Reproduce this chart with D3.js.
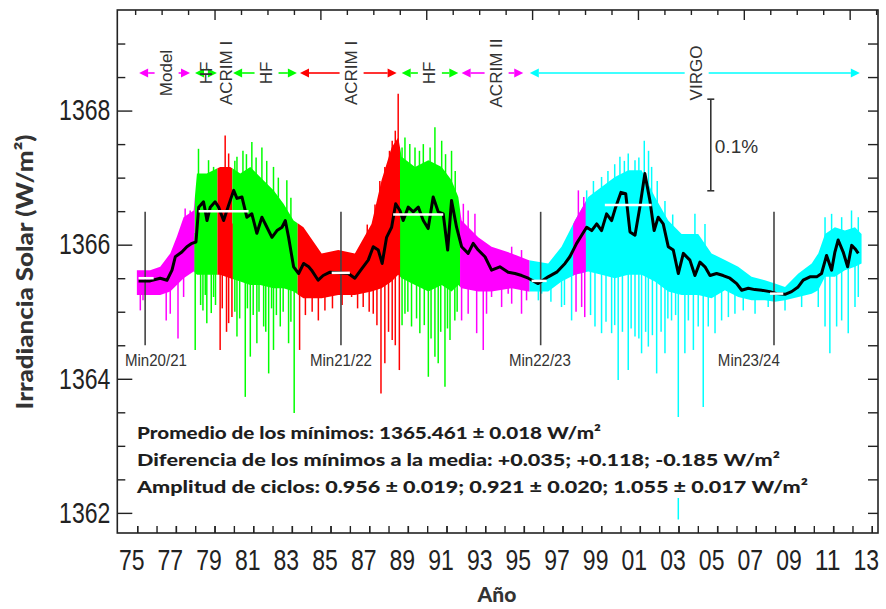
<!DOCTYPE html>
<html>
<head>
<meta charset="utf-8">
<script src="https://cdn.jsdelivr.net/npm/d3@7"></script>
<style>
  body { margin: 0; background: #fff; }
  svg { display: block; }
</style>
</head>
<body>
<svg width="886" height="609"></svg>
<script>
// smoothed composite (black line)
var smoothYears = [1975.07, 1975.67, 1976.19, 1976.54, 1976.80, 1976.97, 1977.31, 1977.57, 1977.83, 1978.04,
  1978.18, 1978.43, 1978.61, 1978.78, 1979.03, 1979.21, 1979.47, 1979.73, 1979.99, 1980.16,
  1980.42, 1980.67, 1980.93, 1981.19, 1981.45, 1981.71, 1981.97, 1982.23, 1982.49, 1982.66,
  1982.83, 1983.09, 1983.35, 1983.61, 1983.87, 1984.02, 1984.36, 1984.62, 1984.97, 1985.40,
  1985.92, 1986.26, 1986.61, 1986.95, 1987.21, 1987.47, 1987.67, 1987.90, 1988.16, 1988.37,
  1988.59, 1988.76, 1989.02, 1989.28, 1989.54, 1989.80, 1990.05, 1990.31, 1990.57, 1990.83,
  1991.06, 1991.26, 1991.52, 1991.78, 1992.12, 1992.38, 1992.64, 1992.99, 1993.33, 1993.76,
  1994.19, 1994.54, 1994.89, 1995.23, 1995.74, 1996.26, 1996.70, 1997.13, 1997.38, 1997.73,
  1997.99, 1998.25, 1998.51, 1998.77, 1999.02, 1999.28, 1999.54, 1999.75, 2000.02, 2000.27,
  2000.49, 2000.75, 2001.00, 2001.26, 2001.52, 2001.74, 2001.95, 2002.21, 2002.47, 2002.73,
  2002.99, 2003.25, 2003.59, 2003.85, 2004.11, 2004.37, 2004.63, 2004.97, 2005.31, 2005.66,
  2006.01, 2006.27, 2006.61, 2006.95, 2007.30, 2007.73, 2008.08, 2008.51, 2008.85, 2009.19,
  2009.45, 2009.80, 2010.15, 2010.40, 2010.66, 2010.92, 2011.09, 2011.26, 2011.52, 2011.75,
  2011.96, 2012.13, 2012.30]
var smoothVals = [1365.46, 1365.46, 1365.50, 1365.47, 1365.62, 1365.82, 1365.89, 1365.97, 1366.02, 1366.04,
  1366.56, 1366.64, 1366.36, 1366.56, 1366.64, 1366.56, 1366.36, 1366.59, 1366.81, 1366.69,
  1366.71, 1366.41, 1366.46, 1366.17, 1366.41, 1366.26, 1366.11, 1366.21, 1366.26, 1366.36,
  1366.11, 1365.67, 1365.57, 1365.72, 1365.67, 1365.62, 1365.47, 1365.54, 1365.59, 1365.58,
  1365.57, 1365.50, 1365.64, 1365.77, 1365.97, 1365.92, 1365.72, 1366.11, 1366.26, 1366.61,
  1366.51, 1366.36, 1366.56, 1366.49, 1366.56, 1366.36, 1366.24, 1366.71, 1366.49, 1366.46,
  1365.92, 1366.66, 1366.26, 1365.97, 1365.87, 1366.02, 1365.92, 1365.82, 1365.62, 1365.67,
  1365.59, 1365.57, 1365.54, 1365.50, 1365.42, 1365.52, 1365.59, 1365.72, 1365.82, 1366.02,
  1366.14, 1366.26, 1366.21, 1366.31, 1366.21, 1366.46, 1366.36, 1366.56, 1366.78, 1366.76,
  1366.19, 1366.14, 1366.56, 1367.06, 1366.66, 1366.21, 1366.41, 1366.31, 1365.97, 1365.92,
  1365.57, 1365.87, 1365.77, 1365.54, 1365.74, 1365.67, 1365.54, 1365.57, 1365.54, 1365.50,
  1365.42, 1365.32, 1365.35, 1365.33, 1365.32, 1365.30, 1365.27, 1365.26, 1365.30, 1365.37,
  1365.47, 1365.52, 1365.52, 1365.57, 1365.84, 1365.62, 1365.89, 1366.07, 1365.89, 1365.67,
  1365.99, 1365.94, 1365.87]

// dense part of the daily values (upper / lower edge)
var envYears = [1974.98, 1975.67, 1976.19, 1976.71, 1977.05, 1977.40, 1977.92, 1978.09, 1978.60, 1979.29,
  1979.81, 1980.33, 1980.85, 1981.36, 1982.05, 1982.57, 1983.09, 1983.60, 1984.54, 1985.40,
  1986.26, 1987.12, 1987.64, 1988.16, 1988.50, 1988.68, 1989.37, 1990.06, 1990.75, 1991.26,
  1991.61, 1991.78, 1992.64, 1993.33, 1994.37, 1995.23, 1996.26, 1996.95, 1997.64, 1998.33,
  1999.02, 1999.71, 2000.40, 2001.09, 2001.78, 2002.47, 2003.16, 2004.02, 2004.71, 2005.40,
  2006.09, 2006.78, 2007.47, 2007.99, 2008.51, 2009.20, 2009.89, 2010.23, 2010.58, 2011.09,
  2011.61, 2012.13, 2012.47]
var envHigh = [1365.62, 1365.62, 1365.67, 1365.87, 1366.12, 1366.41, 1366.51, 1367.06, 1367.06, 1367.16,
  1367.16, 1367.06, 1367.16, 1367.01, 1366.81, 1366.61, 1366.36, 1366.26, 1365.87, 1365.92,
  1365.87, 1366.31, 1366.96, 1367.45, 1367.60, 1367.31, 1367.16, 1367.26, 1367.16, 1366.96,
  1366.71, 1366.36, 1366.11, 1365.97, 1365.87, 1365.77, 1365.72, 1365.97, 1366.36, 1366.71,
  1366.86, 1367.01, 1367.11, 1367.11, 1366.71, 1366.36, 1366.16, 1366.16, 1365.87, 1365.77,
  1365.67, 1365.52, 1365.47, 1365.42, 1365.37, 1365.57, 1365.72, 1365.87, 1366.16, 1366.26,
  1366.21, 1366.26, 1366.16]
var envLow = [1365.25, 1365.25, 1365.25, 1365.30, 1365.40, 1365.50, 1365.60, 1365.55, 1365.55, 1365.55,
  1365.50, 1365.45, 1365.40, 1365.40, 1365.35, 1365.35, 1365.30, 1365.20, 1365.20, 1365.25,
  1365.25, 1365.30, 1365.35, 1365.45, 1365.55, 1365.50, 1365.40, 1365.30, 1365.40, 1365.30,
  1365.40, 1365.35, 1365.30, 1365.30, 1365.35, 1365.30, 1365.30, 1365.45, 1365.55, 1365.60,
  1365.55, 1365.50, 1365.55, 1365.55, 1365.45, 1365.30, 1365.25, 1365.25, 1365.20, 1365.32,
  1365.22, 1365.17, 1365.17, 1365.15, 1365.17, 1365.22, 1365.27, 1365.32, 1365.52, 1365.52,
  1365.62, 1365.67, 1365.72]

// single daily values sticking out of the dense part [year, W/m2]
var spikes = [
  // Model
  [1975.16, 1365.02], [1975.30, 1365.17], [1976.50, 1364.87], [1976.71, 1364.97], [1977.11, 1364.60],
  [1977.40, 1365.22], [1977.48, 1366.54], [1977.74, 1366.51],
  // HF
  [1978.17, 1367.43], [1978.69, 1367.26], [1978.95, 1367.16], [1978.00, 1364.43], [1978.40, 1365.02],
  [1978.60, 1364.83], [1978.95, 1365.22], [1978.28, 1365.10], [1978.52, 1365.25], [1978.83, 1364.98],
  [1979.05, 1365.10],
  // ACRIM I
  [1979.55, 1367.63], [1979.73, 1367.36], [1979.29, 1364.43], [1979.73, 1364.83], [1979.90, 1364.92],
  [1979.40, 1365.05], [1979.62, 1364.70],
  // HF
  [1980.16, 1367.31], [1980.47, 1367.40], [1980.93, 1367.53], [1981.45, 1367.45], [1982.05, 1367.16],
  [1982.74, 1366.96], [1980.16, 1364.63], [1980.59, 1363.73], [1980.85, 1364.33], [1981.19, 1364.53],
  [1981.54, 1364.78], [1981.80, 1364.08], [1982.05, 1364.43], [1982.40, 1364.78], [1982.83, 1364.53],
  [1983.12, 1363.49], [1980.05, 1365.00], [1980.30, 1364.90], [1980.70, 1365.05], [1981.00, 1364.95],
  [1981.30, 1365.00], [1981.65, 1364.70], [1981.95, 1365.05], [1982.20, 1364.95], [1982.55, 1365.00],
  [1982.95, 1364.85], [1980.05, 1367.25], [1980.65, 1367.35], [1981.15, 1367.30], [1981.70, 1367.25],
  [1982.30, 1367.00], [1982.95, 1366.70],
  // ACRIM I
  [1983.40, 1364.43], [1984.37, 1364.87], [1984.71, 1365.02], [1986.09, 1365.22], [1986.69, 1365.07],
  [1987.21, 1364.97], [1987.61, 1363.78], [1987.81, 1364.23], [1988.19, 1364.58], [1988.56, 1364.13],
  [1988.50, 1368.25], [1988.19, 1367.55], [1987.81, 1367.16], [1983.70, 1364.95], [1984.05, 1365.00],
  [1985.10, 1365.05], [1985.60, 1365.10], [1986.40, 1365.05], [1987.00, 1365.00], [1987.40, 1364.80],
  [1988.00, 1364.70], [1988.35, 1364.50], [1986.90, 1366.30], [1987.30, 1366.60], [1987.55, 1366.95],
  [1988.05, 1367.40], [1988.35, 1367.70],
  // HF
  [1988.85, 1367.60], [1989.37, 1367.45], [1989.80, 1367.50], [1990.40, 1367.75], [1990.75, 1367.55],
  [1991.26, 1367.40], [1988.85, 1364.97], [1989.19, 1364.78], [1989.62, 1364.68], [1990.06, 1364.03],
  [1990.40, 1364.33], [1990.57, 1364.23], [1990.92, 1363.88], [1991.18, 1364.58], [1991.43, 1364.87],
  [1988.70, 1364.80], [1989.00, 1365.00], [1989.45, 1364.90], [1989.85, 1364.80], [1990.20, 1364.60],
  [1990.70, 1364.70], [1991.05, 1364.75], [1991.55, 1365.00], [1988.70, 1367.45], [1989.10, 1367.50],
  [1989.60, 1367.40], [1990.15, 1367.45], [1990.95, 1367.35], [1991.45, 1367.10],
  // ACRIM II
  [1991.87, 1366.61], [1992.12, 1366.51], [1992.47, 1366.46], [1991.78, 1364.87], [1992.12, 1364.97],
  [1992.56, 1364.68], [1992.90, 1364.43], [1993.07, 1364.97], [1993.33, 1365.22], [1993.85, 1365.07],
  [1994.19, 1365.27], [1994.37, 1365.12], [1994.88, 1364.97], [1995.14, 1365.17], [1994.37, 1365.97],
  [1994.88, 1365.92],
  [1997.82, 1366.81], [1998.10, 1366.71], [1997.99, 1365.07], [1998.15, 1364.92],
  // VIRGO
  [1998.25, 1366.81], [1999.02, 1367.01], [1999.97, 1367.31], [2000.40, 1367.36], [2000.75, 1367.26],
  [2001.23, 1367.55], [2001.61, 1367.16], [1995.75, 1365.17], [1995.92, 1365.27], [1996.95, 1365.07],
  [1997.47, 1364.87], [1998.68, 1364.78], [1999.02, 1364.68], [1999.54, 1364.68], [1999.88, 1363.98],
  [2000.40, 1364.13], [2000.75, 1364.63], [2001.09, 1364.38], [2001.44, 1364.48], [2001.87, 1364.08],
  [2002.30, 1364.38], [2002.64, 1364.87], [2002.99, 1361.90], [2003.33, 1364.38],
  [1996.40, 1365.15], [1997.10, 1365.10], [1997.70, 1365.00], [1998.45, 1364.95], [1999.25, 1364.85],
  [1999.70, 1364.80], [2000.10, 1364.70], [2000.55, 1364.75], [2000.95, 1364.60], [2001.30, 1364.70],
  [2001.65, 1364.65], [2002.10, 1364.70], [2002.45, 1364.90], [2002.85, 1364.95],
  [1998.60, 1366.95], [1999.35, 1367.10], [1999.70, 1367.20], [2000.20, 1367.25], [2000.95, 1367.30],
  [2001.45, 1367.40], [2001.90, 1366.95], [2002.30, 1366.65], [2002.70, 1366.45],
  [2003.85, 1366.46], [2004.37, 1366.31], [2010.58, 1366.41], [2010.92, 1366.46], [2011.44, 1366.41],
  [2011.95, 1366.51], [2012.30, 1366.41],
  [2003.51, 1364.87], [2003.77, 1364.43], [2004.02, 1364.78], [2004.28, 1363.58], [2004.54, 1364.78],
  [2004.89, 1364.68], [2005.23, 1364.87], [2005.58, 1364.92], [2005.92, 1364.97], [2006.35, 1365.02],
  [2006.96, 1364.97], [2007.64, 1365.07], [2008.51, 1365.02], [2009.37, 1365.07], [2010.23, 1365.07],
  [2010.58, 1364.78], [2010.83, 1364.38], [2011.18, 1364.78], [2011.44, 1364.87], [2011.78, 1364.68],
  [2012.13, 1365.07], [2012.30, 1365.22]
]

// which instrument is used when (last match wins)
var segStart = [1974.95, 1977.98, 1979.15, 1979.92, 1983.30, 1988.60, 1991.70, 1995.30, 1997.55]
var segEnd = [1977.98, 1979.15, 1979.92, 1983.30, 1988.60, 1991.70, 1995.30, 2012.50, 1998.20]
var segInstr = ['Model', 'HF', 'ACRIM I', 'HF', 'ACRIM I', 'HF', 'ACRIM II', 'VIRGO', 'ACRIM II']
var colors = {
  'Model': '#ff00ff',
  'HF': '#00ff00',
  'ACRIM I': '#ff0000',
  'ACRIM II': '#ff00ff',
  'VIRGO': '#00ffff'
}

// legend arrows on top
var legLabels = ['Model', 'HF', 'ACRIM I', 'HF', 'ACRIM I', 'HF', 'ACRIM II', 'VIRGO']
var legStart = [1975.10, 1977.99, null, 1979.96, 1983.42, 1988.68, 1991.78, 1995.31]
var legEnd = [1977.73, 1979.12, null, 1983.26, 1988.42, 1991.61, 1994.97, 2012.38]
var legLabelYear = [1976.52, 1978.59, 1979.62, 1981.69, 1986.09, 1990.14, 1993.59, 2003.94]

// solar minima and cycle mean levels
var minYears = [1975.41, 1985.54, 1995.87, 2007.94]
var minNames = ['Min20/21', 'Min21/22', 'Min22/23', 'Min23/24']
var minLabelYears = [1975.97, 1985.54, 1995.83, 2006.64]
var levelStart = [1975.07, 1978.18, 1985.06, 1988.24, 1995.40, 1999.19, 2007.73]
var levelEnd = [1975.85, 1980.76, 1986.00, 1990.83, 1996.18, 2001.61, 2008.42]
var levelVals = [1365.50, 1366.50, 1365.58, 1366.45, 1365.46, 1366.59, 1365.27]

var yMajor = [1362, 1364, 1366, 1368]
var yearTicks = d3.range(1975, 2014)
var yearLabels = d3.range(1975, 2014, 2)

var notes = [
  'Promedio de los mínimos: 1365.461 ± 0.018 W/m²',
  'Diferencia de los mínimos a la media: +0.035; +0.118; -0.185 W/m²',
  'Amplitud de ciclos: 0.956 ± 0.019; 0.921 ± 0.020; 1.055 ± 0.017 W/m²'
]
var noteWidths = [464, 643, 671]

var svg = d3.select('svg')
var plain = "'Liberation Sans', Arial, sans-serif"
var heavy = "Lato, 'DejaVu Sans', sans-serif"

var x = d3.scaleLinear().domain([1973.97, 2013.32]).range([117.3, 878])
var y = d3.scaleLinear().domain([1361.7, 1369.5]).range([533, 10])
// top axis counts days from 1979
var days = d3.scaleLinear()
  .domain(x.domain().map(d => (d - 1979) * 365.25))
  .range(x.range())

function colorAt(yr) {
  var c = null
  segStart.forEach((s, i) => {
    if (yr >= s && yr < segEnd[i]) c = colors[segInstr[i]]
  })
  return c
}

var env = envYears.map((yr, i) => ({ yr: yr, hi: envHigh[i], lo: envLow[i] }))
var bis = d3.bisector(d => d.yr).left
function envMid(yr) {
  var i = Math.max(1, Math.min(env.length - 1, bis(env, yr)))
  var a = env[i - 1], b = env[i]
  var t = Math.max(0, Math.min(1, (yr - a.yr) / (b.yr - a.yr)))
  return ((a.hi + a.lo) / 2) * (1 - t) + ((b.hi + b.lo) / 2) * t
}

// ------------------------------------------------
// daily data, coloured by instrument

var defs = svg.append('defs')
var bandArea = d3.area()
  .x(d => x(d.yr))
  .y0(d => y(d.lo))
  .y1(d => y(d.hi))

var dataG = svg.append('g')
segStart.forEach((s, i) => {
  defs.append('clipPath').attr('id', 'seg' + i)
    .append('rect')
    .attr('x', x(s)).attr('y', 0)
    .attr('width', x(segEnd[i]) - x(s)).attr('height', 609)
  dataG.append('path')
    .datum(env)
    .attr('d', bandArea)
    .attr('fill', colors[segInstr[i]])
    .attr('clip-path', 'url(#seg' + i + ')')
})

dataG.selectAll('.spike')
  .data(spikes)
  .enter()
  .append('line')
  .attr('class', 'spike')
  .attr('x1', d => x(d[0])).attr('x2', d => x(d[0]))
  .attr('y1', d => y(envMid(d[0])))
  .attr('y2', d => y(d[1]))
  .attr('stroke', d => colorAt(d[0]))
  .attr('stroke-width', 1.5)

// white box behind the notes
svg.append('rect')
  .attr('x', 126).attr('y', 417)
  .attr('width', 690).attr('height', 81)
  .attr('fill', '#fff')

// minima markers
svg.selectAll('.minline')
  .data(minYears)
  .enter()
  .append('line')
  .attr('x1', d => x(d)).attr('x2', d => x(d))
  .attr('y1', y(1366.49)).attr('y2', y(1364.5))
  .attr('stroke', '#444')
  .attr('stroke-width', 1.6)

svg.selectAll('.minlabel')
  .data(minNames)
  .enter()
  .append('text')
  .attr('x', (d, i) => x(minLabelYears[i]))
  .attr('y', 366)
  .attr('text-anchor', 'middle')
  .attr('font-family', plain)
  .attr('font-size', 16)
  .attr('textLength', 62)
  .attr('lengthAdjust', 'spacingAndGlyphs')
  .attr('fill', '#333')
  .text(d => d)

// smoothed line
var line = d3.line()
  .x((d, i) => x(smoothYears[i]))
  .y(d => y(d))
svg.append('path')
  .datum(smoothVals)
  .attr('d', line)
  .attr('fill', 'none')
  .attr('stroke', '#000')
  .attr('stroke-width', 3)
  .attr('stroke-linejoin', 'round')

svg.selectAll('.level')
  .data(levelVals)
  .enter()
  .append('line')
  .attr('x1', (d, i) => x(levelStart[i]))
  .attr('x2', (d, i) => x(levelEnd[i]))
  .attr('y1', d => y(d)).attr('y2', d => y(d))
  .attr('stroke', '#fff')
  .attr('stroke-width', 2.5)

// ------------------------------------------------
// legend arrows

var legY = 73
var gap = 12
var head = 9
legLabels.forEach((name, i) => {
  var col = colors[name]
  var lx = x(legLabelYear[i])
  if (legStart[i] !== null) {
    var x0 = x(legStart[i]), x1 = x(legEnd[i])
    if (lx - gap > x0 + head) {
      svg.append('line').attr('x1', x0 + head).attr('x2', lx - gap)
        .attr('y1', legY).attr('y2', legY)
        .attr('stroke', col).attr('stroke-width', 1.6)
    }
    if (x1 - head > lx + gap) {
      svg.append('line').attr('x1', lx + gap).attr('x2', x1 - head)
        .attr('y1', legY).attr('y2', legY)
        .attr('stroke', col).attr('stroke-width', 1.6)
    }
    svg.append('path')
      .attr('d', 'M' + x0 + ',' + legY + 'L' + (x0 + head) + ',' + (legY - 4.5) + 'L' + (x0 + head) + ',' + (legY + 4.5) + 'Z')
      .attr('fill', col)
    svg.append('path')
      .attr('d', 'M' + x1 + ',' + legY + 'L' + (x1 - head) + ',' + (legY - 4.5) + 'L' + (x1 - head) + ',' + (legY + 4.5) + 'Z')
      .attr('fill', col)
  }
  svg.append('text')
    .attr('transform', 'translate(' + lx + ',' + legY + ') rotate(-90)')
    .attr('text-anchor', 'middle')
    .attr('dominant-baseline', 'central')
    .attr('font-family', plain)
    .attr('font-size', 17)
    .attr('fill', '#333')
    .text(name)
})

// 0.1% scale bar
var barYear = 2004.67
var barTop = 1368.17
var barBottom = barTop - 1366 * 0.001
svg.append('line')
  .attr('x1', x(barYear)).attr('x2', x(barYear))
  .attr('y1', y(barTop)).attr('y2', y(barBottom))
  .attr('stroke', '#333').attr('stroke-width', 1.6)
;[barTop, barBottom].forEach(v => {
  svg.append('line')
    .attr('x1', x(barYear) - 3.5).attr('x2', x(barYear) + 3.5)
    .attr('y1', y(v)).attr('y2', y(v))
    .attr('stroke', '#333').attr('stroke-width', 1.6)
})
svg.append('text')
  .attr('x', x(barYear) + 4)
  .attr('y', 153)
  .attr('font-family', plain)
  .attr('font-size', 19)
  .attr('fill', '#333')
  .text('0.1%')

// ------------------------------------------------
// axes

function styleAxis(g) {
  g.select('.domain').remove()
  g.selectAll('line').attr('stroke', '#222').attr('stroke-width', 1.4)
  g.selectAll('text')
    .attr('font-family', plain)
    .attr('font-size', 29)
    .attr('fill', '#222')
    .attr('textLength', function () { return this.textContent.length * 12.8 })
    .attr('lengthAdjust', 'spacingAndGlyphs')
}

svg.append('g')
  .attr('transform', 'translate(' + x.range()[0] + ',0)')
  .call(d3.axisLeft(y)
    .tickValues(d3.range(1362, 1369.01, 0.5).filter(v => yMajor.indexOf(v) < 0))
    .tickSize(-8).tickFormat(''))
  .call(styleAxis)
svg.append('g')
  .attr('transform', 'translate(' + x.range()[0] + ',0)')
  .call(d3.axisLeft(y).tickValues(yMajor).tickSize(-15).tickPadding(7).tickFormat(d3.format('d')))
  .call(styleAxis)
svg.append('g')
  .attr('transform', 'translate(' + x.range()[1] + ',0)')
  .call(d3.axisRight(y).tickValues(d3.range(1362, 1369.01, 0.5)).tickSize(-10).tickFormat(''))
  .call(styleAxis)

var dayTicks = d3.range(-1500, 12600, 500)
svg.append('g')
  .attr('transform', 'translate(0,' + y.range()[1] + ')')
  .call(d3.axisTop(days).tickValues(dayTicks.filter(d => d % 2000 !== 0)).tickSize(-5).tickFormat(''))
  .call(styleAxis)
svg.append('g')
  .attr('transform', 'translate(0,' + y.range()[1] + ')')
  .call(d3.axisTop(days).tickValues(dayTicks.filter(d => d % 2000 === 0)).tickSize(-10).tickFormat(''))
  .call(styleAxis)

svg.append('g')
  .attr('transform', 'translate(0,' + y.range()[0] + ')')
  .call(d3.axisBottom(x).tickValues(yearTicks).tickSize(-7).tickFormat(''))
  .call(styleAxis)
svg.append('g')
  .attr('transform', 'translate(0,' + y.range()[0] + ')')
  .call(d3.axisBottom(x).tickValues(yearLabels).tickSize(-7).tickPadding(16)
    .tickFormat(d => String(d % 100).padStart(2, '0')))
  .call(styleAxis)
  .selectAll('text').attr('dx', -6)

// frame
svg.append('rect')
  .attr('x', x.range()[0]).attr('y', y.range()[1])
  .attr('width', x.range()[1] - x.range()[0])
  .attr('height', y.range()[0] - y.range()[1])
  .attr('fill', 'none')
  .attr('stroke', '#222')
  .attr('stroke-width', 1.6)

// ------------------------------------------------
// titles and notes

svg.append('text')
  .attr('transform', 'translate(33,272) rotate(-90)')
  .attr('text-anchor', 'middle')
  .attr('font-family', heavy)
  .attr('font-weight', 900)
  .attr('font-size', 23)
  .attr('textLength', 275)
  .attr('lengthAdjust', 'spacingAndGlyphs')
  .attr('fill', '#333')
  .text('Irradiancia Solar (W/m²)')

svg.append('text')
  .attr('x', 497).attr('y', 602)
  .attr('text-anchor', 'middle')
  .attr('font-family', heavy)
  .attr('font-weight', 900)
  .attr('font-size', 21)
  .attr('fill', '#333')
  .text('Año')

svg.selectAll('.note')
  .data(notes)
  .enter()
  .append('text')
  .attr('x', 137)
  .attr('y', (d, i) => 439 + i * 27)
  .attr('font-family', heavy)
  .attr('font-weight', 900)
  .attr('font-size', 17)
  .attr('textLength', (d, i) => noteWidths[i])
  .attr('lengthAdjust', 'spacingAndGlyphs')
  .attr('fill', '#1e1e1e')
  .text(d => d)
</script>
</body>
</html>
